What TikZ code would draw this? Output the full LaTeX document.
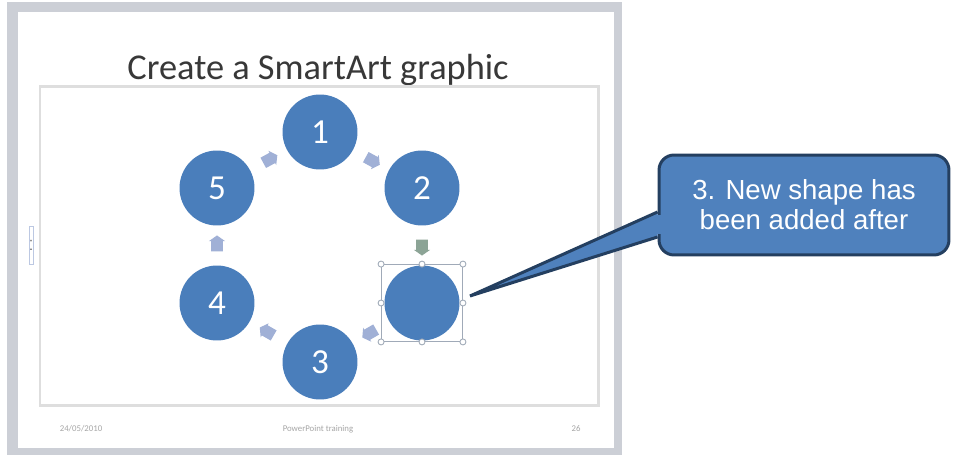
\documentclass[tikz,border=0pt]{standalone}
\usepackage{fontspec}
\setmainfont{Carlito}
\newfontfamily\calloutfont{Liberation Sans}
\usepackage{tikz}
\usetikzlibrary{shapes.arrows}
\definecolor{slideblue}{RGB}{74,126,187}
\definecolor{calloutblue}{RGB}{79,129,189}
\definecolor{calloutborder}{RGB}{36,63,96}
\definecolor{stepblue}{RGB}{160,176,214}
\definecolor{stepgreen}{RGB}{140,164,150}
\definecolor{framegray}{RGB}{204,207,214}
\definecolor{selgray}{RGB}{160,170,184}

\begin{document}
\begin{tikzpicture}[
    x=0.02cm, y=-0.02cm,
    stage/.style={circle, fill=slideblue, minimum size=1.5cm, inner sep=0pt,
        text=white, font=\fontsize{20}{20}\selectfont},
    flowtip/.style={single arrow, fill=stepblue, draw=none,
        inner xsep=0pt, inner ysep=0.11cm,
        minimum height=0.32cm,
        single arrow head extend=0.045cm, single arrow tip angle=110,
        sloped, allow upside down},
    handle/.style={circle, draw=selgray, fill=white, line width=0.5pt,
        minimum size=0.12cm, inner sep=0pt},
    footer/.style={font=\fontsize{5}{5}\selectfont, text=black!35}
]
\useasboundingbox (0,0) rectangle (958,456);

% Slide
\fill[framegray] (7,2) rectangle (622,455);
\fill[white] (18,12) rectangle (614,448);

% Title
\node[
    anchor=base,
    font=\fontsize{20.7}{22}\selectfont,
    text=black!78
] (title) at (318,80) {Create a SmartArt graphic};

% SmartArt frame
\draw[
    line width=0.06cm,
    black!13
] (40,87) rectangle (598,405);

% Text pane
\draw[
    stepblue!70,
    line width=0.3pt
] (29,226) rectangle (33,264);
\fill[black!50] (30,240) -- (32,240) -- (31,242) -- cycle;
\fill[black!50] (30,250) -- (32,250) -- (31,248) -- cycle;

% Circles
\node[stage] (c1) at (320,132) {1};
\node[stage] (c2) at (422,188) {2};
\node[stage] (cnew) at (422,303) {};
\node[stage] (c3) at (320,362) {3};
\node[stage] (c4) at (217,303) {4};
\node[stage] (c5) at (217,188) {5};

% Small arrows
\path (c1) -- (c2) node[flowtip, midway] (a12) {};
\path (c2) -- (cnew) node[flowtip, midway, fill=stepgreen] (a2n) {};
\path (cnew) -- (c3) node[flowtip, midway] (an3) {};
\path (c3) -- (c4) node[flowtip, midway] (a34) {};
\path (c4) -- (c5) node[flowtip, midway] (a45) {};
\path (c5) -- (c1) node[flowtip, midway] (a51) {};

% Selection
\node[
    draw=selgray,
    line width=0.5pt,
    minimum width=1.62cm,
    minimum height=1.54cm
] (sel) at (cnew) {};
\foreach \a [count=\i] in {north west, north, north east, west, east,
        south west, south, south east}
    \node[handle] (h\i) at (sel.\a) {};

% Footer
\node[footer] (fdate) at (81,429) {24/05/2010};
\node[footer] (ftitle) at (318,429) {PowerPoint training};
\node[footer] (fpage) at (576,429) {26};

% Callout
\coordinate (tip) at (470,296);
\node[
    fill=calloutblue,
    draw=calloutborder,
    line width=0.06cm,
    rounded corners=0.3cm,
    minimum width=5.8cm,
    minimum height=2cm,
    align=center,
    text=white,
    font=\calloutfont\fontsize{15.7}{17}\selectfont
] (note) at (804,205) {3. New shape has\\been added after};
\filldraw[
    fill=calloutblue,
    draw=calloutborder,
    line width=0.06cm,
    line join=miter
] ([yshift=-0.14cm]note.west) -- (tip) -- ([yshift=-0.64cm]note.west);
\fill[calloutblue] ([xshift=-0.04cm, yshift=-0.2cm]note.west)
    rectangle ([xshift=0.08cm, yshift=-0.58cm]note.west);

\end{tikzpicture}
\end{document}
